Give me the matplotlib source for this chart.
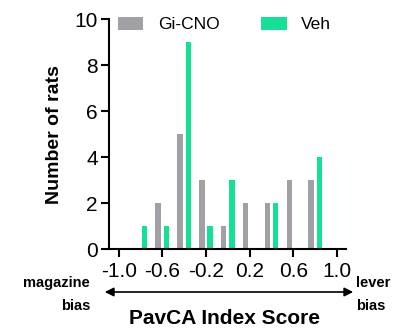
import numpy as np
import matplotlib.pyplot as plt

plt.rcParams['font.family'] = ['Liberation Sans', 'DejaVu Sans']

# histogram of PavCA index score, bins of 0.2
bins = [-0.8, -0.6, -0.4, -0.2, 0.0, 0.2, 0.4, 0.6, 0.8]
gi_cno = [0, 2, 5, 3, 1, 2, 2, 3, 3]
veh = [1, 1, 9, 1, 3, 0, 2, 0, 4]
xticks = [-1.0, -0.6, -0.2, 0.2, 0.6, 1.0]
xlabels = ['-1.0', '-0.6', '-0.2', '0.2', '0.6', '1.0']

gray = '#a0a0a5'
green = '#14e196'

fig = plt.figure(figsize=(4.06, 3.29), dpi=100)
ax = fig.add_axes([0.268, 0.243, 0.584, 0.699])

x = np.array(bins)
w = 0.05
ax.bar(x - 0.038, gi_cno, width=w, color=gray, label='Gi-CNO')
ax.bar(x + 0.038, veh, width=w, color=green, label='Veh')

ax.set_xlim(-1.09, 1.08)
ax.set_ylim(0, 10)
ax.set_yticks([0, 2, 4, 6, 8, 10])
ax.set_xticks(xticks)
ax.set_xticklabels(xlabels)
for s in ['top', 'right']:
    ax.spines[s].set_visible(False)
for s in ['left', 'bottom']:
    ax.spines[s].set_linewidth(1.5)
ax.tick_params(direction='out', length=6, width=1.5, labelsize=15, pad=2)
ax.tick_params(axis='x', pad=3)
ax.set_ylabel('Number of rats', fontsize=14, fontweight='bold', labelpad=8)

leg = ax.legend(ncol=2, frameon=False, loc='upper left', bbox_to_anchor=(0.01, 1.04),
                fontsize=12.5, handlelength=1.45, handleheight=0.75,
                columnspacing=2.4, handletextpad=0.85, borderaxespad=0)

# arrow and bias labels
bias_fs = 10.5
fig.text(0.222, 1 - 283 / 329, 'magazine', ha='right', va='center',
         fontsize=bias_fs, fontweight='bold')
fig.text(0.222, 1 - 306 / 329, 'bias', ha='right', va='center',
         fontsize=bias_fs, fontweight='bold')
fig.text(0.878, 1 - 283 / 329, 'lever', ha='left', va='center',
         fontsize=bias_fs, fontweight='bold')
fig.text(0.878, 1 - 306 / 329, 'bias', ha='left', va='center',
         fontsize=bias_fs, fontweight='bold')
fig.add_artist(plt.matplotlib.patches.FancyArrowPatch(
    (102 / 406, 1 - 292 / 329), (356 / 406, 1 - 292 / 329),
    transform=fig.transFigure, arrowstyle='<|-|>', mutation_scale=13,
    color='black', linewidth=1.2))
fig.text(0.552, 1 - 318 / 329, 'PavCA Index Score', ha='center', va='center',
         fontsize=15, fontweight='bold')

fig.savefig('out.png', dpi=100)
